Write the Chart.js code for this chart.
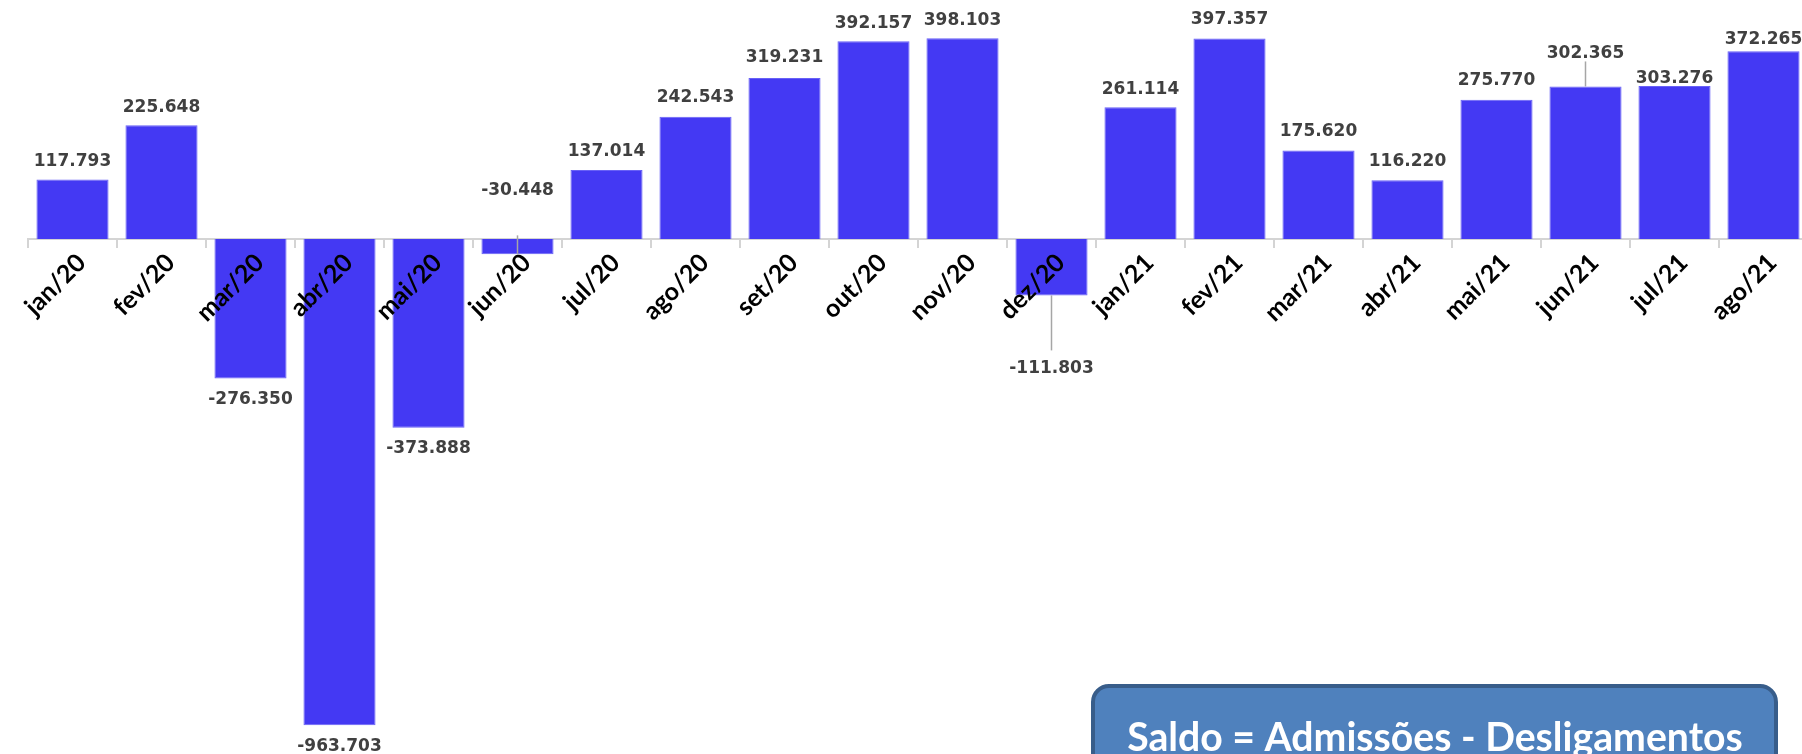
<!DOCTYPE html>
<html>
<head>
<meta charset="utf-8">
<script src="https://cdn.jsdelivr.net/npm/chart.js@4"></script>
<style>
  html, body { margin: 0; padding: 0; background: #fff; overflow: hidden; }
  #saldo { display: block; }
</style>
</head>
<body>
<canvas id="saldo" width="1810" height="754"></canvas>
<script>
let categories = [
  "jan/20", "fev/20", "mar/20", "abr/20", "mai/20", "jun/20", "jul/20",
  "ago/20", "set/20", "out/20", "nov/20", "dez/20", "jan/21", "fev/21",
  "mar/21", "abr/21", "mai/21", "jun/21", "jul/21", "ago/21",
];

let saldo = [
  117793, 225648, -276350, -963703, -373888, -30448, 137014, 242543, 319231,
  392157, 398103, -111803, 261114, 397357, 175620, 116220, 275770, 302365,
  303276, 372265,
];

let boxText = "Saldo = Admissões - Desligamentos";

// distance of the value label from the end of the bar (px), like the excel layout
let labelGap = [18, 18, 21, 21, 21, -64, 18, 19, 20, 18, 18, 73, 18, 19, 19, 19, 19, 33, 7, 12];
// leader lines (bar index -> length in px, from bar end toward the label)
let leaders = { 5: 19, 11: 55, 17: 25 };

function fmt(v) {
  let s = Math.abs(v).toString().replace(/\B(?=(\d{3})+(?!\d))/g, ".");
  return (v < 0 ? "-" : "") + s;
}

let valueLabels = {
  id: "valueLabels",
  afterDatasetsDraw(chart) {
    let ctx = chart.ctx;
    let meta = chart.getDatasetMeta(0);
    ctx.save();
    ctx.font = "bold 17px 'DejaVu Sans'";
    ctx.fillStyle = "#404040";
    ctx.textAlign = "center";
    ctx.textBaseline = "middle";
    meta.data.forEach((bar, i) => {
      let dir = saldo[i] < 0 ? 1 : -1;
      ctx.fillText(fmt(saldo[i]), bar.x, bar.y + dir * labelGap[i]);
      if (leaders[i]) {
        let toward = labelGap[i] < 0 ? -dir : dir;
        ctx.strokeStyle = "#a6a6a6";
        ctx.lineWidth = 1.5;
        ctx.beginPath();
        ctx.moveTo(bar.x, bar.y);
        ctx.lineTo(bar.x, bar.y + toward * leaders[i]);
        ctx.stroke();
      }
    });
    ctx.restore();
  },
  afterDraw(chart) {
    let ctx = chart.ctx;
    ctx.save();
    ctx.beginPath();
    ctx.roundRect(1093, 686, 683, 110, 16);
    ctx.fillStyle = "#4f81bd";
    ctx.fill();
    ctx.lineWidth = 4;
    ctx.strokeStyle = "#385d8a";
    ctx.stroke();
    // fit the text width like the calibri original
    let size = 36;
    ctx.font = "bold " + size + "px Lato";
    let w = ctx.measureText(boxText).width;
    size = size * 616 / w;
    ctx.font = "bold " + size + "px Lato";
    ctx.fillStyle = "#ffffff";
    ctx.textAlign = "center";
    ctx.textBaseline = "alphabetic";
    ctx.fillText(boxText, 1435, 751);
    ctx.restore();
  },
};

let canvas = document.querySelector("#saldo");
let ctx = canvas.getContext("2d");

let saldoChart = new Chart(ctx, {
  type: "bar",
  data: {
    labels: categories,
    datasets: [
      {
        data: saldo,
        backgroundColor: "#4439f3",
        borderColor: "#6861f6",
        borderWidth: 1,
        barPercentage: 0.81,
        categoryPercentage: 1,
      },
    ],
  },
  options: {
    responsive: false,
    animation: false,
    layout: {
      padding: { left: 28, right: 2, top: 0, bottom: 0 },
    },
    plugins: {
      legend: { display: false },
      tooltip: { enabled: false },
    },
    scales: {
      y: {
        display: false,
        min: -1020700,
        max: 473700,
      },
      x: {
        position: { y: 0 },
        grid: {
          offset: true,
          drawOnChartArea: false,
          tickLength: 8,
          color: "#d4d4d4",
          lineWidth: 2,
        },
        border: {
          color: "#d4d4d4",
          width: 2,
        },
        ticks: {
          z: 1,
          autoSkip: false,
          minRotation: 45,
          maxRotation: 45,
          color: "#000000",
          padding: 1,
          labelOffset: 9,
          font: {
            family: "Lato",
            weight: "bold",
            size: 25,
          },
        },
      },
    },
  },
  plugins: [valueLabels],
});
</script>
</body>
</html>
